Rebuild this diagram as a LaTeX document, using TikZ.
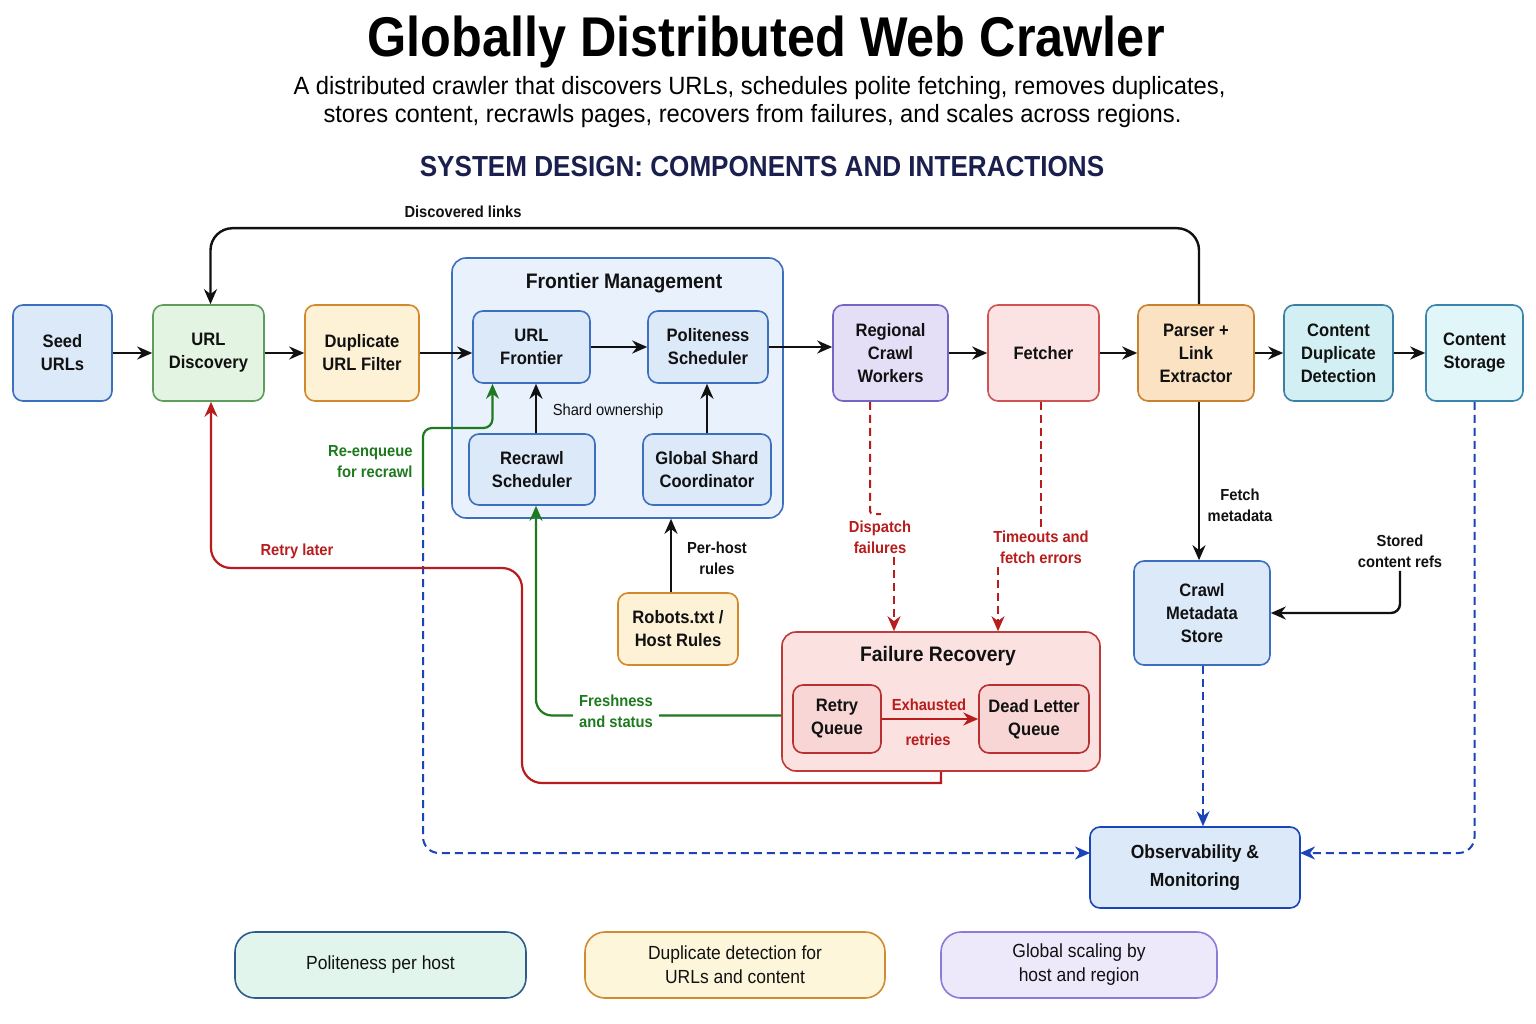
\documentclass[tikz,border=0pt]{standalone}
\usepackage{fontspec}
\setmainfont[FakeStretch=0.92]{Liberation Sans}
\newfontfamily\titlefont[FakeStretch=0.9]{Liberation Sans}
\newfontfamily\subfont[FakeStretch=0.95]{Liberation Sans}
\usetikzlibrary{arrows.meta}
\definecolor{ink}{HTML}{111111}
\definecolor{bfill}{HTML}{DCE9F9}\definecolor{bdraw}{HTML}{3D6FBF}
\definecolor{gfill}{HTML}{E4F4E2}\definecolor{gdraw}{HTML}{5E9E5C}
\definecolor{yfill}{HTML}{FDF1D6}\definecolor{ydraw}{HTML}{D4882C}
\definecolor{cfill}{HTML}{E9F1FD}
\definecolor{pfill}{HTML}{E4DEF7}\definecolor{pdraw}{HTML}{7466C4}
\definecolor{rfill}{HTML}{FBE3E3}\definecolor{rdraw}{HTML}{D05252}
\definecolor{ofill}{HTML}{FBE2C2}\definecolor{odraw}{HTML}{C8812E}
\definecolor{tfill}{HTML}{D2F0F3}\definecolor{tdraw}{HTML}{3A7FA6}
\definecolor{t2fill}{HTML}{E1F6F9}\definecolor{t2draw}{HTML}{3B84AE}
\definecolor{ffill}{HTML}{FBE1E0}\definecolor{fdraw}{HTML}{C03A3A}
\definecolor{qfill}{HTML}{F8D6D6}\definecolor{qdraw}{HTML}{B83030}
\definecolor{l1fill}{HTML}{E2F5EC}\definecolor{l1draw}{HTML}{2D5B8C}
\definecolor{l2fill}{HTML}{FEF6DA}\definecolor{l2draw}{HTML}{D08A30}
\definecolor{l3fill}{HTML}{EEE8FB}\definecolor{l3draw}{HTML}{8B7AD8}
\definecolor{redl}{HTML}{B81C1C}
\definecolor{greenl}{HTML}{1E7A1E}
\definecolor{bluel}{HTML}{1A44B8}
\definecolor{navy}{HTML}{1A1F4E}
\tikzset{
  box/.style={draw, rounded corners=10pt, line width=1.6pt, align=center, text=ink,
    font=\bfseries\fontsize{18}{23}\selectfont, inner sep=2pt},
  bluebox/.style={box, fill=bfill, draw=bdraw},
  legbox/.style={draw, rounded corners=20pt, line width=1.6pt, align=center, text=ink,
    font=\fontsize{19}{24}\selectfont, minimum height=66pt},
  arr/.style={-{Stealth[length=15pt,width=13pt]}, line width=2.4pt, draw=ink},
  redarr/.style={-{Stealth[length=15pt,width=13pt]}, line width=2.2pt, draw=redl},
  greenarr/.style={-{Stealth[length=15pt,width=13pt]}, line width=2.2pt, draw=greenl},
  reddash/.style={line width=2pt, draw=redl, dash pattern=on 8pt off 5pt},
  reddasharr/.style={reddash, -{Stealth[length=15pt,width=13pt]}},
  bluedash/.style={line width=2pt, draw=bluel, dash pattern=on 8pt off 5pt, -{Stealth[length=15pt,width=13pt]}},
  lbl/.style={font=\bfseries\fontsize{16}{21}\selectfont, text=ink, align=center},
  redlbl/.style={font=\bfseries\fontsize{16}{21}\selectfont, text=redl, align=center},
  greenlbl/.style={font=\bfseries\fontsize{16}{21}\selectfont, text=greenl, align=center},
  grptitle/.style={font=\bfseries\fontsize{21}{25}\selectfont, text=ink},
}
\begin{document}
\begin{tikzpicture}[x=1pt,y=-1pt]
\useasboundingbox[fill=white] (0,0) rectangle (1536,1024);
% titles
\node (title) at (766,42) {\titlefont\bfseries\fontsize{56}{60}\selectfont Globally Distributed Web Crawler};
\node (sub1) at (759.5,88) {\subfont\fontsize{25}{29}\selectfont A distributed crawler that discovers URLs, schedules polite fetching, removes duplicates,};
\node (sub2) at (752.5,116) {\subfont\fontsize{25}{29}\selectfont stores content, recrawls pages, recovers from failures, and scales across regions.};
\node[text=navy] (head) at (762,167) {\titlefont\bfseries\fontsize{29}{33}\selectfont SYSTEM DESIGN: COMPONENTS AND INTERACTIONS};

% containers
\node[box, fill=cfill, draw=bdraw, rounded corners=14pt, minimum width=331pt, minimum height=260pt] (fm) at (617.5,388) {};
\node[grptitle] (fmt) at (624,283) {Frontier Management};
\node[box, fill=ffill, draw=fdraw, rounded corners=14pt, minimum width=318pt, minimum height=139pt] (fr) at (941,701.5) {};
\node[grptitle] (frt) at (938,656) {Failure Recovery};

% main row
\node[bluebox, minimum width=99pt, minimum height=96pt] (seed) at (62.5,353) {Seed\\URLs};
\node[box, fill=gfill, draw=gdraw, minimum width=111pt, minimum height=96pt] (disc) at (208.5,353) {URL\\Discovery};
\node[box, fill=yfill, draw=ydraw, minimum width=114pt, minimum height=96pt] (dupf) at (362,353) {Duplicate\\URL Filter};
\node[bluebox, minimum width=117pt, minimum height=72pt] (ufront) at (531.5,347) {URL\\Frontier};
\node[bluebox, minimum width=120pt, minimum height=72pt] (polite) at (708,347) {Politeness\\Scheduler};
\node[bluebox, minimum width=126pt, minimum height=71pt] (recrawl) at (532,469.5) {Recrawl\\Scheduler};
\node[bluebox, minimum width=128pt, minimum height=71pt] (gshard) at (707,469.5) {Global Shard\\Coordinator};
\node[box, fill=pfill, draw=pdraw, minimum width=115pt, minimum height=96pt] (regional) at (890.5,353) {Regional\\Crawl\\Workers};
\node[box, fill=rfill, draw=rdraw, minimum width=111pt, minimum height=96pt] (fetcher) at (1043.5,353) {Fetcher};
\node[box, fill=ofill, draw=odraw, minimum width=116pt, minimum height=96pt] (parser) at (1196,353) {Parser +\\Link\\Extractor};
\node[box, fill=tfill, draw=tdraw, minimum width=109pt, minimum height=96pt] (cdup) at (1338.5,353) {Content\\Duplicate\\Detection};
\node[box, fill=t2fill, draw=t2draw, minimum width=97pt, minimum height=96pt] (cstore) at (1474.5,353) {Content\\Storage};
\node[bluebox, minimum width=136pt, minimum height=104pt] (meta) at (1202,613) {Crawl\\Metadata\\Store};
\node[box, fill=yfill, draw=ydraw, minimum width=120pt, minimum height=72pt] (robots) at (678,629) {Robots.txt /\\Host Rules};
\node[box, fill=qfill, draw=qdraw, minimum width=88pt, minimum height=68pt] (retry) at (837,719) {Retry\\Queue};
\node[box, fill=qfill, draw=qdraw, minimum width=110pt, minimum height=68pt] (dlq) at (1034,719) {Dead Letter\\Queue};
\node[box, fill=bfill, draw=bluel, font=\bfseries\fontsize{19}{28}\selectfont, minimum width=210pt, minimum height=81pt] (obs) at (1195,867.5) {Observability \&\\Monitoring};

% legend
\node[legbox, fill=l1fill, draw=l1draw, minimum width=291pt] (leg1) at (380.5,965) {Politeness per host};
\node[legbox, fill=l2fill, draw=l2draw, minimum width=300pt] (leg2) at (735,965) {Duplicate detection for\\URLs and content};
\node[legbox, fill=l3fill, draw=l3draw, minimum width=276pt] (leg3) at (1079,965) {Global scaling by\\host and region};

% main flow arrows
\draw[arr] (seed) -- (disc);
\draw[arr] (disc) -- (dupf);
\draw[arr] (dupf.east) -- (dupf.east -| ufront.west);
\draw[arr] (ufront) -- (polite);
\draw[arr] (polite.east) -- (polite.east -| regional.west);
\draw[arr] (regional) -- (fetcher);
\draw[arr] (fetcher) -- (parser);
\draw[arr] (parser) -- (cdup);
\draw[arr] (cdup) -- (cstore);

% discovered links
\draw[arr, rounded corners=22pt] ([xshift=3pt]parser.north) -- ++(0,-76) -| ([xshift=2pt]disc.north);
\node[lbl] (dl) at (463,212) {Discovered links};

% frontier internals
\draw[arr] ([xshift=4pt]recrawl.north) -- ([xshift=4pt]recrawl.north |- ufront.south);
\draw[arr] (gshard.north) -- (gshard.north |- polite.south);
\node[lbl, font=\fontsize{16}{20}\selectfont] (shard) at (608,411) {Shard ownership};

% robots
\draw[arr] ([xshift=-7pt]robots.north) -- ([xshift=-7pt]robots.north |- fm.south);
\node[lbl] (phr) at (717,558) {Per-host\\rules};

% parser -> metadata
\draw[arr] ([xshift=3pt]parser.south) -- ([xshift=3pt]parser.south |- meta.north);
\node[lbl] (fmd) at (1240,505) {Fetch\\metadata};

% stored content refs
\node[lbl] (scr) at (1400,551) {Stored\\content refs};
\draw[arr, rounded corners=9pt] (scr.south) |- (meta.east);

% blue dashed to observability
\coordinate (obsR) at (1300,853);
\coordinate (obsL) at (1090,853);
\draw[bluedash, rounded corners=16pt] (cstore.south) |- (obsR);
\draw[bluedash] ([xshift=1pt]meta.south) -- ([xshift=1pt]meta.south |- obs.north);
\coordinate (gsplit) at (423,488);
\draw[bluedash, rounded corners=16pt] (gsplit) |- (obsL);

% re-enqueue green
\draw[greenarr, rounded corners=9pt] (gsplit) -- (423,428) -| ([xshift=-39pt]ufront.south);
\node[greenlbl, align=right, anchor=east] (reenq) at (416,462) {Re-enqueue\\for recrawl};

% freshness green
\draw[greenarr, rounded corners=16pt] ([yshift=-14pt]fr.west) -| ([xshift=4pt]recrawl.south);
\node[greenlbl, fill=white, inner xsep=6pt] (fresh) at (616,711) {Freshness\\and status};

% retry later red
\draw[redarr, rounded corners=20pt] (fr.south) {[sharp corners] -- (941,783)} -- (522,783) -- (522,568) -- (211,568) -- ([xshift=2.5pt]disc.south);
\node[redlbl] (rl) at (297,551) {Retry later};

% dispatch failures
\node[redlbl] (dispf) at (880,537) {Dispatch\\failures};
\draw[reddash, rounded corners=3pt] ([xshift=-20.5pt]regional.south) -- (870,514) -- (881,514);
\draw[reddasharr] ([xshift=14pt]dispf.south) -- ([xshift=14pt]dispf.south |- fr.north);

% timeouts
\node[redlbl] (tfe) at (1041,547) {Timeouts and\\fetch errors};
\draw[reddash] ([xshift=-2.5pt]fetcher.south) -- ([xshift=-2.5pt]fetcher.south |- tfe.north);
\draw[reddasharr] ([xshift=-43pt]tfe.south) -- ([xshift=-43pt]tfe.south |- fr.north);

% exhausted retries
\draw[redarr] (retry.east) -- (dlq.west);
\node[redlbl] (ex1) at (929,705) {Exhausted};
\node[redlbl] (ex2) at (928,740) {retries};
\end{tikzpicture}
\end{document}
